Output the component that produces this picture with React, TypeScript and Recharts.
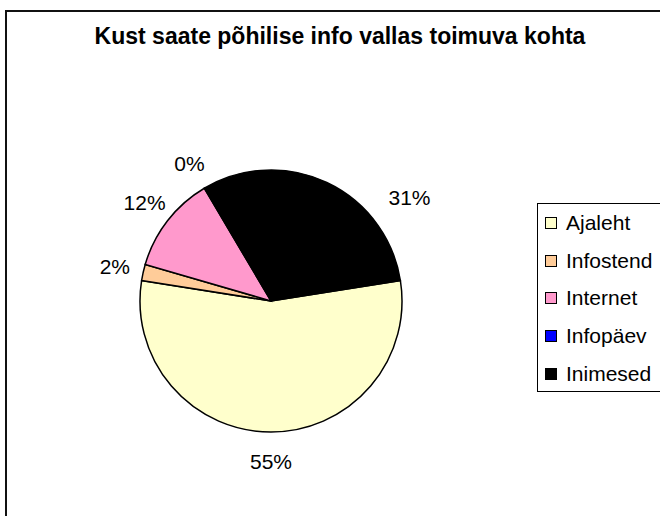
import { PieChart, Pie, Cell, Legend } from 'recharts';

const sources = ['Ajaleht', 'Infostend', 'Internet', 'Infopäev', 'Inimesed'];
const shares = [55, 2, 12, 0, 31];
const colors = ['#FFFFCC', '#FFCC99', '#FF99CC', '#0000FF', '#000000'];

const data = sources.map((name, i) => ({ name, value: shares[i] }));

const FONT = '"Liberation Sans", Arial, sans-serif';
const RAD = Math.PI / 180;

const renderLabel = (props: any) => {
  const { cx, cy, midAngle, outerRadius, percent, name } = props;
  // the Inimesed label sits lower-right of its slice in the original
  const moved = name === 'Inimesed';
  const r = outerRadius + (moved ? 42 : 29);
  const a = (midAngle + (moved ? -28 : 0)) * RAD;
  return (
    <text
      x={cx + r * Math.cos(a)}
      y={cy - r * Math.sin(a)}
      textAnchor="middle"
      dominantBaseline="central"
      fontSize={21}
      fontFamily={FONT}
      fill="#000"
    >
      {`${Math.round(percent * 100)}%`}
    </text>
  );
};

const renderLegend = (props: any) => {
  const items = [...(props.payload || [])].sort(
    (a: any, b: any) => sources.indexOf(a.value) - sources.indexOf(b.value)
  );
  return (
    <div style={{ fontFamily: FONT, fontSize: 21, color: '#000' }}>
      {items.map((item: any) => (
        <div key={item.value} style={{ height: 37.8, display: 'flex', alignItems: 'center' }}>
          <span
            style={{
              display: 'inline-block',
              width: 10,
              height: 10,
              marginLeft: 7,
              marginRight: 9,
              background: item.color,
              border: '1px solid #000',
            }}
          />
          <span>{item.value}</span>
        </div>
      ))}
    </div>
  );
};

export default function App() {
  return (
    <div
      style={{
        position: 'fixed',
        left: 0,
        top: 0,
        width: 660,
        height: 516,
        overflow: 'hidden',
        background: '#fff',
      }}
    >
      <div
        style={{
          position: 'absolute',
          left: 5,
          top: 10,
          width: 720,
          height: 620,
          border: '2px solid #111',
        }}
      />
      <div
        style={{
          position: 'absolute',
          left: 0,
          top: 23,
          width: 680,
          textAlign: 'center',
          fontFamily: FONT,
          fontWeight: 'bold',
          fontSize: 23,
          color: '#000',
        }}
      >
        Kust saate põhilise info vallas toimuva kohta
      </div>
      <div style={{ position: 'absolute', left: 0, top: 0 }}>
        <PieChart width={660} height={516}>
          <Pie
            data={data}
            dataKey="value"
            nameKey="name"
            cx={266}
            cy={296}
            outerRadius={131}
            startAngle={9}
            endAngle={-351}
            stroke="#000"
            strokeWidth={1.5}
            label={renderLabel}
            labelLine={false}
            isAnimationActive={false}
          >
            {data.map((d, i) => (
              <Cell key={d.name} fill={colors[i]} />
            ))}
          </Pie>
          <Legend
            content={renderLegend}
            wrapperStyle={{
              position: 'absolute',
              left: 537,
              top: 203,
              width: 200,
              height: 189,
              border: '1px solid #000',
              background: '#fff',
              boxSizing: 'border-box',
            }}
          />
        </PieChart>
      </div>
    </div>
  );
}
